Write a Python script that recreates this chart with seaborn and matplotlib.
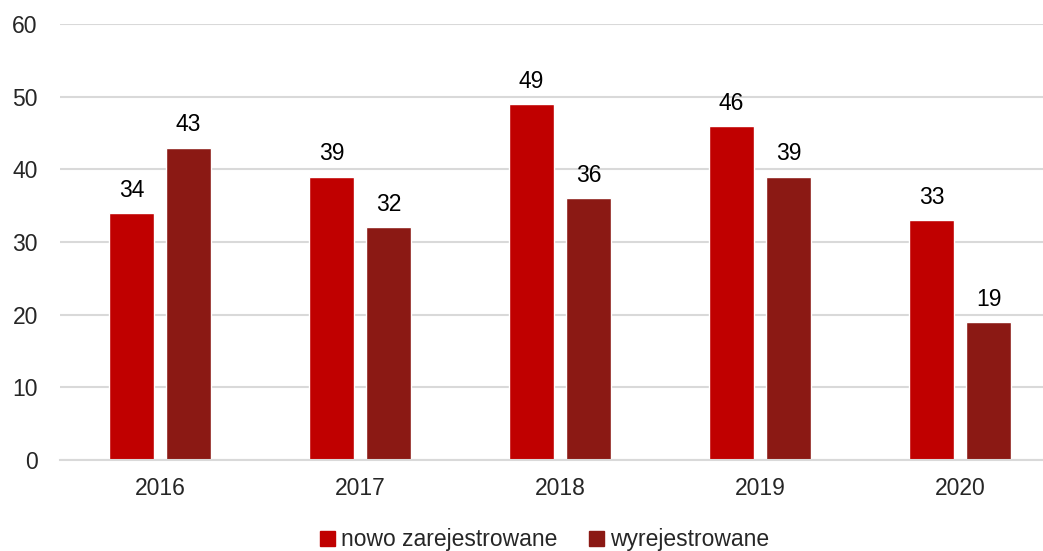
import pandas as pd
import matplotlib
matplotlib.use("Agg")
import matplotlib.pyplot as plt
import seaborn as sns

# Chart data
years = ["2016", "2017", "2018", "2019", "2020"]
registered = [34, 39, 49, 46, 33]
deregistered = [43, 32, 36, 39, 19]
series_names = ["nowo zarejestrowane", "wyrejestrowane"]
colors = ["#C00000", "#8B1914"]

df = pd.DataFrame({
    "rok": years * 2,
    "liczba": registered + deregistered,
    "seria": [series_names[0]] * len(years) + [series_names[1]] * len(years),
})

sns.set_style("white")
plt.rcParams["font.family"] = ["Liberation Sans", "DejaVu Sans"]
FS = 16.5

fig = plt.figure(figsize=(10.43, 5.51), dpi=100)
ax = fig.add_axes([60 / 1043, 91 / 551, 1000 / 1043, 436 / 551])

sns.barplot(data=df, x="rok", y="liczba", hue="seria", palette=colors,
            width=0.57, gap=0.21, saturation=1, ax=ax, legend=False)

# value labels above bars
for container in ax.containers:
    ax.bar_label(container, fmt="%d", padding=8, fontsize=FS, color="#000000")

ax.set_ylim(0, 60)
ax.set_xlim(-0.5, 4.5)
ax.set_yticks(range(0, 61, 10))
ax.yaxis.grid(True, color="#D9D9D9", linewidth=1.5)
ax.set_axisbelow(True)
for side in ["top", "right", "left"]:
    ax.spines[side].set_visible(False)
ax.spines["bottom"].set_color("#D9D9D9")
ax.spines["bottom"].set_linewidth(1.5)
ax.tick_params(axis="y", length=0, pad=16, labelsize=FS)
ax.tick_params(axis="x", length=0, pad=12, labelsize=FS)
ax.set_xlabel("")
ax.set_ylabel("")

handles = [plt.Rectangle((0, 0), 1, 1, color=c) for c in colors]
fig.legend(handles, series_names, loc="center", bbox_to_anchor=(0.522, 0.02),
           ncol=2, frameon=False, fontsize=FS, handlelength=0.65,
           handleheight=0.65, handletextpad=0.25, columnspacing=1.4)

fig.savefig("out.png", dpi=100)
